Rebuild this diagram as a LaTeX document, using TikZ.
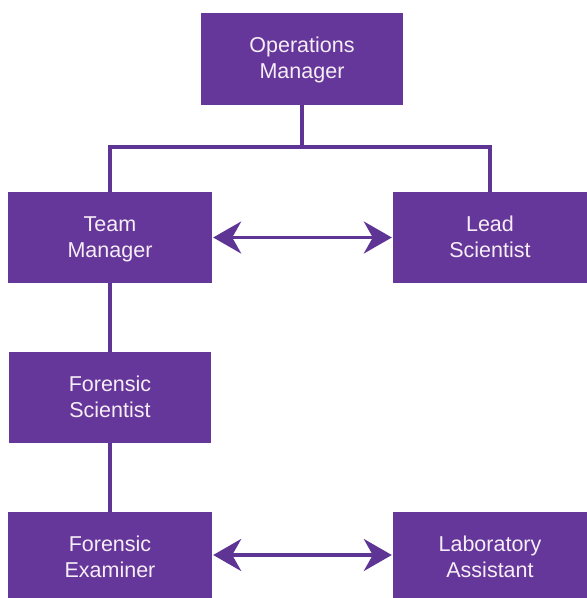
\documentclass[tikz,border=0pt]{standalone}
\usepackage{fontspec}
\setmainfont{Liberation Sans}
\usetikzlibrary{arrows.meta}
\definecolor{purp}{HTML}{66379A}
\definecolor{linec}{HTML}{5E3494}
\definecolor{txt}{HTML}{F6EEF6}
\newcommand{\topstrut}{\rule{0pt}{17.5pt}}
\newcommand{\botstrut}{\rule[-3.5pt]{0pt}{3.5pt}}
\begin{document}
\begin{tikzpicture}[x=1pt,y=-1pt,
  box/.style={fill=purp, draw=none, text=txt, align=center,
    font=\fontsize{21.5}{26}\selectfont, inner sep=0pt},
  conn/.style={draw=linec, line width=3.5pt},
  dbl/.style={draw=linec, line width=3.5pt,
    {Stealth[length=28pt,width=32pt,inset=9pt]}-{Stealth[length=28pt,width=32pt,inset=9pt]}}]
\useasboundingbox (0,0) rectangle (587,598);
\fill[white] (0,0) rectangle (587,598);
\node[box, minimum width=202pt, minimum height=92pt] (ops) at (302,59) {\topstrut Operations\\Manager\botstrut};
\node[box, minimum width=204pt, minimum height=91pt] (tm) at (110,237.5) {\topstrut Team\\Manager\botstrut};
\node[box, minimum width=194pt, minimum height=91pt] (ls) at (490,237.5) {\topstrut Lead\\Scientist\botstrut};
\node[box, minimum width=202pt, minimum height=91pt] (fs) at (110,397.5) {\topstrut Forensic\\Scientist\botstrut};
\node[box, minimum width=204pt, minimum height=91pt] (fe) at (110,557.5) {\topstrut Forensic\\Examiner\botstrut};
\node[box, minimum width=194pt, minimum height=91pt] (la) at (490,557.5) {\topstrut Laboratory\\Assistant\botstrut};
\coordinate (bar) at (302,147);
\draw[conn] (ops.south) -- (bar);
\draw[conn] (tm.north) |- (bar) -| (ls.north);
\draw[conn] (tm.south) -- (fs.north);
\draw[conn] (fs.south) -- (fe.north);
\draw[dbl] ([xshift=1pt]tm.east) -- ([xshift=-1pt]ls.west);
\draw[dbl] ([xshift=1pt,yshift=2.5pt]fe.east) -- ([xshift=-1pt,yshift=2.5pt]la.west);
\end{tikzpicture}
\end{document}
